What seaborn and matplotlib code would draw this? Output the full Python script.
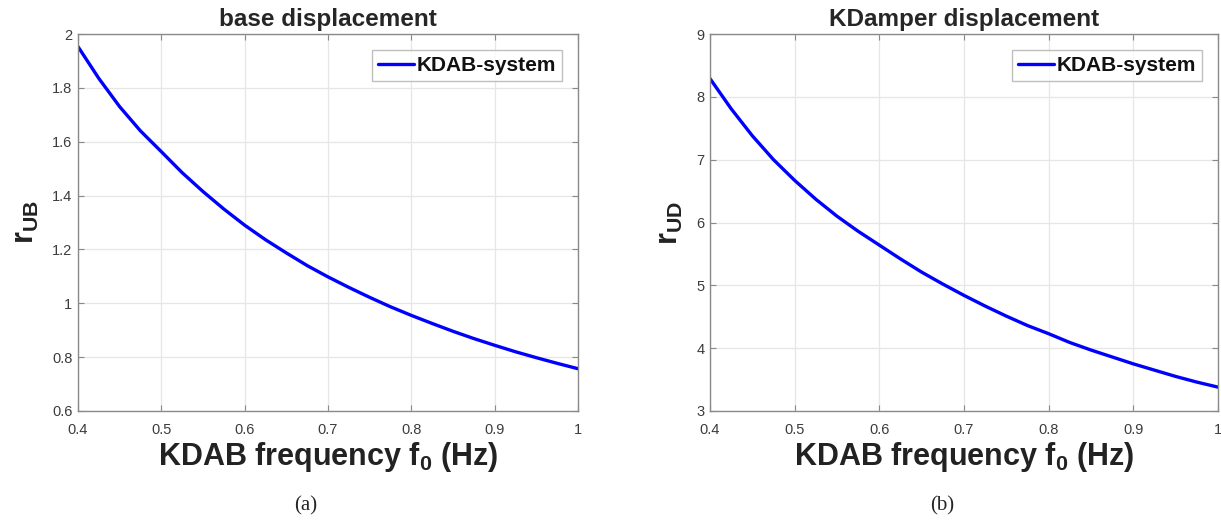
import numpy as np
import pandas as pd
import matplotlib
matplotlib.use("Agg")
import matplotlib.pyplot as plt
import seaborn as sns

# KDAB tuning frequency (Hz)
freq = [0.400, 0.425, 0.450, 0.475, 0.500, 0.525, 0.550, 0.575, 0.600,
        0.625, 0.650, 0.675, 0.700, 0.725, 0.750, 0.775, 0.800, 0.825,
        0.850, 0.875, 0.900, 0.925, 0.950, 0.975, 1.000]
# base displacement ratio r_UB
r_ub = [1.953, 1.835, 1.730, 1.640, 1.563, 1.485, 1.415, 1.350, 1.290,
        1.236, 1.187, 1.140, 1.098, 1.059, 1.022, 0.987, 0.955, 0.925,
        0.896, 0.869, 0.844, 0.820, 0.798, 0.777, 0.757]
# KDamper displacement ratio r_UD
r_ud = [8.29, 7.81, 7.38, 7.00, 6.67, 6.37, 6.10, 5.86, 5.64,
        5.42, 5.21, 5.02, 4.84, 4.67, 4.51, 4.36, 4.23, 4.09,
        3.97, 3.86, 3.75, 3.65, 3.55, 3.46, 3.38]

series_name = "KDAB-system"
x_ticks = [0.4, 0.5, 0.6, 0.7, 0.8, 0.9, 1.0]
x_ticklabels = ["0.4", "0.5", "0.6", "0.7", "0.8", "0.9", "1"]
ub_ticks = [0.6, 0.8, 1.0, 1.2, 1.4, 1.6, 1.8, 2.0]
ub_ticklabels = ["0.6", "0.8", "1", "1.2", "1.4", "1.6", "1.8", "2"]
ud_ticks = [3, 4, 5, 6, 7, 8, 9]
ud_ticklabels = ["3", "4", "5", "6", "7", "8", "9"]

sns.set_style("white")
plt.rcParams["font.family"] = ["Liberation Sans", "DejaVu Sans"]
plt.rcParams["mathtext.fontset"] = "custom"
plt.rcParams["mathtext.rm"] = "Liberation Sans"
plt.rcParams["mathtext.bf"] = "Liberation Sans:bold"
plt.rcParams["mathtext.it"] = "Liberation Sans:italic"

df = pd.DataFrame({"freq": freq, "r_ub": r_ub, "r_ud": r_ud})

fig = plt.figure(figsize=(12.21, 5.21), dpi=100)
ax_a = fig.add_axes([78 / 1221, 110 / 521, 500 / 1221, 377 / 521])
ax_b = fig.add_axes([710 / 1221, 110 / 521, 508 / 1221, 377 / 521])

panels = [
    (ax_a, "r_ub", "base displacement", r"$\mathbf{r_{UB}}$", ub_ticks, ub_ticklabels, (0.6, 2.0), "(a)"),
    (ax_b, "r_ud", "KDamper displacement", r"$\mathbf{r_{UD}}$", ud_ticks, ud_ticklabels, (3, 9), "(b)"),
]

spine_col = "#8a8a8a"
tick_col = "#3c3c3c"

for ax, col, title, ylab, yt, ytl, ylim, tag in panels:
    sns.lineplot(data=df, x="freq", y=col, ax=ax, color="#0000ff",
                 linewidth=2.4, label=series_name)
    ax.set_xlim(0.4, 1.0)
    ax.set_ylim(*ylim)
    ax.set_xticks(x_ticks)
    ax.set_xticklabels(x_ticklabels)
    ax.set_yticks(yt)
    ax.set_yticklabels(ytl)
    ax.grid(True, color="#e6e6e6", linewidth=0.9)
    ax.set_axisbelow(True)
    for s in ax.spines.values():
        s.set_visible(True)
        s.set_color(spine_col)
        s.set_linewidth(1.0)
    ax.tick_params(direction="in", length=4, width=0.8, colors=spine_col,
                   labelcolor=tick_col, labelsize=10.5, top=True, right=True,
                   bottom=True, left=True, pad=4)
    ax.tick_params(axis="x", pad=9)
    ax.set_title(title, fontsize=17.5, fontweight="bold", pad=6)
    ax.set_xlabel(r"KDAB frequency $\mathbf{f_0}$ (Hz)", fontsize=22,
                  fontweight="bold", color="#222222", labelpad=2)
    ax.set_ylabel(ylab, fontsize=22, color="#222222", labelpad=8)
    leg = ax.legend(loc="upper right", fontsize=15, frameon=True,
                    fancybox=False, borderpad=0.3, handlelength=1.7,
                    handletextpad=0.15, borderaxespad=0.75)
    leg.get_frame().set_edgecolor("#b0b0b0")
    leg.get_frame().set_linewidth(1.0)
    for t in leg.get_texts():
        t.set_fontweight("bold")
        t.set_color("#111111")
    pos = ax.get_position()
    fig.text(pos.x0 + pos.width / 2 - 0.018, 15 / 521, tag, ha="center", va="center",
             fontsize=15, family=["Liberation Serif", "DejaVu Serif"])

fig.savefig("out.png", dpi=100)
